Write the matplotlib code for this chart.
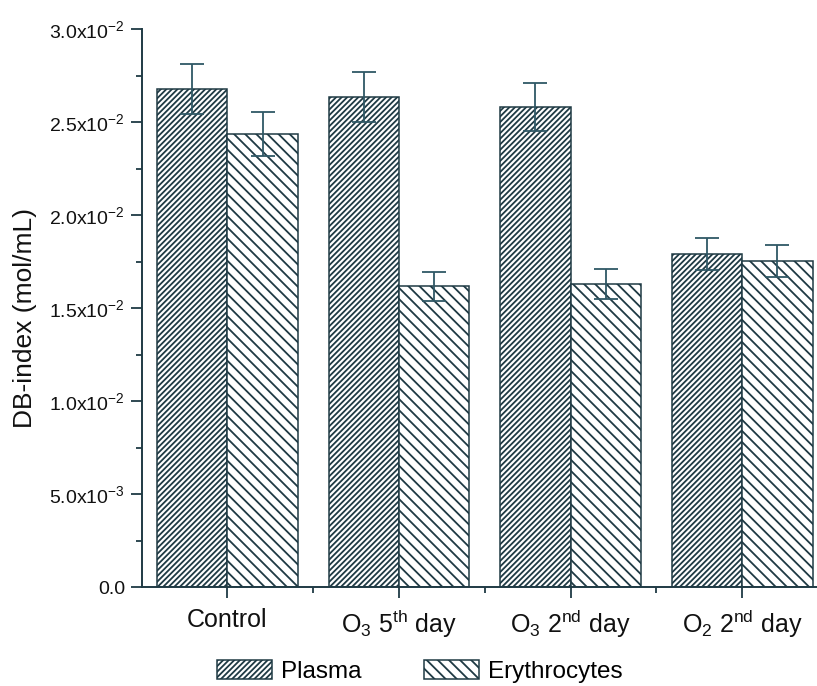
import matplotlib
matplotlib.use("Agg")
import matplotlib.pyplot as plt
import numpy as np
from matplotlib.ticker import FixedLocator, FuncFormatter

# values (mol/mL)
categories = ["Control", "O$_3$ 5$^{th}$ day", "O$_3$ 2$^{nd}$ day", "O$_2$ 2$^{nd}$ day"]
plasma = [0.02680, 0.02636, 0.02584, 0.01791]
plasma_err = [0.00135, 0.00135, 0.00130, 0.00087]
erythrocytes = [0.02437, 0.01620, 0.01631, 0.01755]
erythrocytes_err = [0.00120, 0.00078, 0.00080, 0.00088]

INK = "#1f3a44"
HATCH = "#2c5361"
ERR = "#2f5866"

plt.rcParams["font.family"] = ["Liberation Sans", "DejaVu Sans"]
plt.rcParams["mathtext.default"] = "regular"
plt.rcParams["hatch.color"] = HATCH
plt.rcParams["hatch.linewidth"] = 1.3

fig = plt.figure(figsize=(8.17, 6.86), dpi=100)
# axes runs slightly past the right edge, as in the reference (cropped)
ax = fig.add_axes([0.1734, 0.1436, 0.8401, 0.8137])

x = np.arange(len(categories))
w = 0.41
err_kw = dict(ecolor=ERR, elinewidth=1.3, capsize=8.5, capthick=1.3)

ax.bar(x - w / 2, plasma, w, yerr=plasma_err, facecolor="white",
       edgecolor=INK, linewidth=1.1, hatch="//////", label="Plasma", error_kw=err_kw)
ax.bar(x + w / 2, erythrocytes, w, yerr=erythrocytes_err, facecolor="white",
       edgecolor=INK, linewidth=1.1, hatch="\\\\\\", label="Erythrocytes", error_kw=err_kw)

ax.set_xlim(-0.5, 3.5)
ax.set_ylim(0, 0.03)

major_y = [0, 0.005, 0.01, 0.015, 0.02, 0.025, 0.03]
ax.yaxis.set_major_locator(FixedLocator(major_y))
ax.yaxis.set_minor_locator(FixedLocator([v + 0.0025 for v in major_y[:-1]]))


def fmt(v, pos):
    if v == 0:
        return "0.0"
    e = int(np.floor(np.log10(v) + 1e-9))
    m = v / 10 ** e
    return f"{m:.1f}x10$^{{{e}}}$"


ax.yaxis.set_major_formatter(FuncFormatter(fmt))
ax.set_xticks(x)
ax.set_xticklabels(categories)
ax.xaxis.set_minor_locator(FixedLocator([0.5, 1.5, 2.5]))

for s in ["top", "right"]:
    ax.spines[s].set_visible(False)
for s in ["left", "bottom"]:
    ax.spines[s].set_color(INK)
    ax.spines[s].set_linewidth(1.4)

ax.tick_params(axis="y", which="major", direction="out", length=8, width=1.3,
               color=INK, labelsize=14, pad=4, labelcolor="#111111")
ax.tick_params(axis="y", which="minor", direction="out", length=4.5, width=1.3, color=INK)
ax.tick_params(axis="x", which="major", direction="out", length=8, width=1.3,
               color=INK, labelsize=18, pad=7, labelcolor="#111111")
ax.tick_params(axis="x", which="minor", direction="out", length=4.5, width=1.3, color=INK)

ax.set_ylabel("DB-index (mol/mL)", fontsize=19, color="#111111")
ax.yaxis.set_label_coords(-0.152, 0.483)

fig.legend(loc="center", bbox_to_anchor=(0.514, 0.021), ncol=2, frameon=False,
           fontsize=17.5, handlelength=2.25, handleheight=0.85,
           handletextpad=0.4, columnspacing=2.55, borderpad=0)

fig.savefig("out.png", dpi=100)
